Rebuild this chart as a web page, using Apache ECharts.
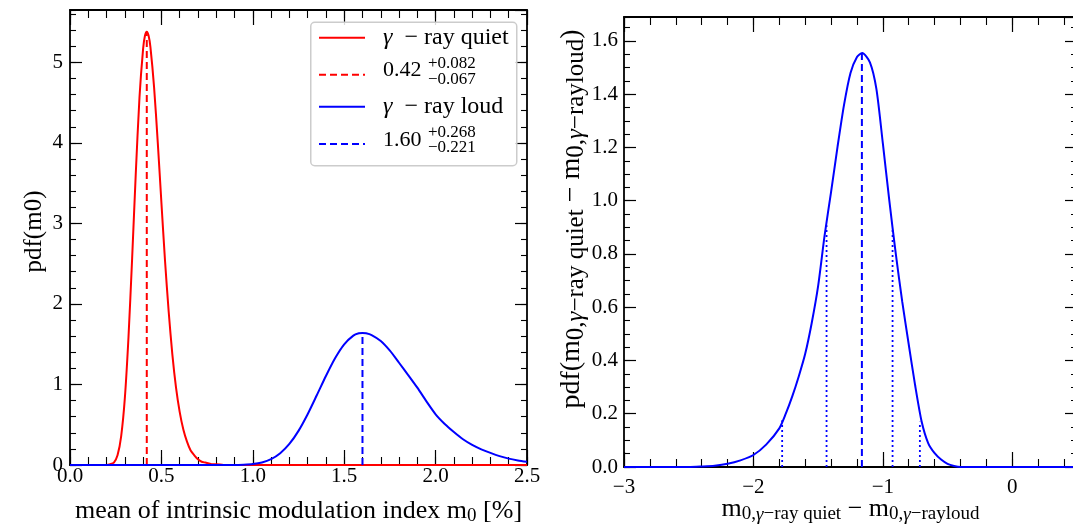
<!DOCTYPE html>
<html><head><meta charset="utf-8">
<script src="https://cdn.jsdelivr.net/npm/echarts@6/dist/echarts.min.js"></script>
<style>html,body{margin:0;padding:0;background:#fff}#c{width:1073px;height:528px}</style>
</head><body><div id="c"></div>
<script>
// ---------------- data ----------------
const quietX = [0.00, 0.20, 0.22, 0.24, 0.26, 0.28, 0.30, 0.32, 0.34, 0.36, 0.38, 0.40, 0.41, 0.42, 0.43, 0.44, 0.46, 0.48, 0.50, 0.52, 0.54, 0.56, 0.58, 0.60, 0.62, 0.64, 0.66, 0.68, 0.70, 0.72, 0.74, 0.76, 0.78, 0.80, 0.84, 2.50];
const quietY = [0.00, 0.00, 0.01, 0.03, 0.12, 0.36, 0.83, 1.59, 2.57, 3.63, 4.56, 5.17, 5.33, 5.38, 5.33, 5.19, 4.69, 4.01, 3.26, 2.53, 1.90, 1.37, 0.96, 0.66, 0.44, 0.29, 0.18, 0.12, 0.07, 0.04, 0.03, 0.02, 0.01, 0.01, 0.00, 0.00];
const loudX = [0.00, 0.90, 0.95, 1.00, 1.05, 1.10, 1.15, 1.20, 1.25, 1.30, 1.35, 1.40, 1.45, 1.50, 1.55, 1.58, 1.60, 1.62, 1.65, 1.70, 1.75, 1.80, 1.85, 1.90, 1.95, 2.00, 2.05, 2.10, 2.15, 2.20, 2.25, 2.30, 2.35, 2.40, 2.45, 2.50];
const loudY = [0.00, 0.00, 0.004, 0.012, 0.032, 0.073, 0.146, 0.261, 0.424, 0.631, 0.866, 1.106, 1.326, 1.499, 1.607, 1.635, 1.64, 1.636, 1.614, 1.54, 1.42, 1.27, 1.117, 0.96, 0.79, 0.63, 0.51, 0.41, 0.32, 0.25, 0.195, 0.15, 0.11, 0.079, 0.057, 0.04];
const quietBest = 0.42, quietBestPdf = 5.38;
const loudBest = 1.60, loudBestPdf = 1.64;

const diffX = [-3.0, -2.5, -2.4, -2.3, -2.2, -2.1, -2.0, -1.9, -1.8, -1.75, -1.7, -1.65, -1.6, -1.55, -1.5, -1.45, -1.4, -1.35, -1.3, -1.25, -1.2, -1.16, -1.1, -1.05, -1.0, -0.95, -0.9, -0.85, -0.8, -0.75, -0.7, -0.65, -0.6, -0.55, -0.5, -0.45, -0.4, 0.5];
const diffY = [0, 0, 0.002, 0.005, 0.012, 0.025, 0.045, 0.085, 0.145, 0.2, 0.265, 0.34, 0.425, 0.54, 0.68, 0.87, 1.033, 1.203, 1.36, 1.48, 1.54, 1.555, 1.52, 1.42, 1.215, 1.0, 0.8, 0.62, 0.46, 0.305, 0.17, 0.09, 0.052, 0.028, 0.012, 0.004, 0, 0];
const diffBest = -1.162, diffBestPdf = 1.555;
const diffBoundX = [-1.778, -1.435, -0.925, -0.714];
const diffBoundPdf = [0.176, 0.908, 0.897, 0.17];

const leftXTicks = [0, 0.5, 1.0, 1.5, 2.0, 2.5];
const leftXTickLabels = ['0.0', '0.5', '1.0', '1.5', '2.0', '2.5'];
const leftYTicks = [0, 1, 2, 3, 4, 5];
const leftYTickLabels = ['0', '1', '2', '3', '4', '5'];
const rightXTicks = [-3, -2, -1, 0];
const rightXTickLabels = ['\u22123', '\u22122', '\u22121', '0'];
const rightYTicks = [0, 0.2, 0.4, 0.6, 0.8, 1.0, 1.2, 1.4, 1.6];
const rightYTickLabels = ['0.0', '0.2', '0.4', '0.6', '0.8', '1.0', '1.2', '1.4', '1.6'];

const quietName = 'γ − ray quiet', loudName = 'γ − ray loud';
const quietBestText = '0.42', quietPlus = '+0.082', quietMinus = '\u22120.067';
const loudBestText = '1.60', loudPlus = '+0.268', loudMinus = '\u22120.221';

// ---------------- helpers ----------------
const FONT = '"Liberation Serif", "Times New Roman", serif';
const zip = (xs, ys) => xs.map((x, i) => [x, ys[i]]);
const lookup = (vals, labels) => v => {
  const i = vals.findIndex(t => Math.abs(t - v) < 1e-6);
  return i >= 0 ? labels[i] : '';
};
const subRich = (sub) => ({
  s: {fontFamily: FONT, fontSize: sub, lineHeight: sub, verticalAlign: 'bottom', color: '#000'},
  sg: {fontFamily: FONT, fontSize: sub, lineHeight: sub, verticalAlign: 'bottom', fontStyle: 'italic', color: '#000'}
});

function axisPair(grid, pos, min, max, major, minor, majorLen, minorLen, extra) {
  const base = {gridIndex: grid, type: 'value', min: min, max: max, position: pos,
    splitLine: {show: false}, scale: false, nameMoveOverlap: false};
  const maj = Object.assign({}, base, {
    interval: major,
    axisLine: {show: true, onZero: false, lineStyle: {color: '#000', width: 1.8}},
    axisTick: {show: true, inside: true, length: majorLen, lineStyle: {color: '#000', width: 1.2}},
    axisLabel: {show: false}
  }, extra || {});
  const mnr = Object.assign({}, base, {
    interval: minor,
    axisLine: {show: false, onZero: false},
    axisTick: {show: true, inside: true, length: minorLen, lineStyle: {color: '#000', width: 1.1}},
    axisLabel: {show: false}
  });
  return [maj, mnr];
}

const tickFont = {fontFamily: FONT, fontSize: 21, color: '#000'};

const xAxes = [].concat(
  axisPair(0, 'bottom', 0, 2.5, 0.5, 0.1, 15, 8, {
    axisLabel: Object.assign({show: true, margin: 1, formatter: lookup(leftXTicks, leftXTickLabels)}, tickFont),
    name: 'mean of intrinsic modulation index m{s|0} [%]', nameLocation: 'middle', nameGap: 31,
    nameTextStyle: {fontFamily: FONT, fontSize: 26, lineHeight: 30, color: '#000', rich: subRich(19)}
  }),
  axisPair(0, 'top', 0, 2.5, 0.5, 0.1, 15, 8),
  axisPair(1, 'bottom', -3, 0.5, 1, 0.2, 15, 8, {
    axisLabel: Object.assign({show: true, margin: 10, showMaxLabel: false, formatter: lookup(rightXTicks, rightXTickLabels)}, tickFont),
    name: 'm{s|0,}{sg|γ}{s|−ray quiet} − m{s|0,}{sg|γ}{s|−rayloud}', nameLocation: 'middle', nameGap: 27,
    nameTextStyle: {fontFamily: FONT, fontSize: 26, lineHeight: 30, color: '#000', rich: subRich(19)}
  }),
  axisPair(1, 'top', -3, 0.5, 1, 0.2, 15, 8)
);

const yAxes = [].concat(
  axisPair(0, 'left', 0, 5.65, 1, 0.2, 12, 6, {
    axisLabel: Object.assign({show: true, margin: 7, showMaxLabel: false, formatter: lookup(leftYTicks, leftYTickLabels)}, tickFont),
    name: 'pdf(m0)', nameLocation: 'middle', nameRotate: 90, nameGap: 21,
    nameTextStyle: {fontFamily: FONT, fontSize: 25, lineHeight: 30, color: '#000', padding: [0, 0, 0, 12]}
  }),
  axisPair(0, 'right', 0, 5.65, 1, 0.2, 12, 6),
  axisPair(1, 'left', 0, 1.69, 0.2, 0.05, 12, 6, {
    axisLabel: Object.assign({show: true, margin: 6, showMaxLabel: false, formatter: lookup(rightYTicks, rightYTickLabels)}, tickFont),
    name: 'pdf(m{s|0,}{sg|γ}{s|−ray quiet} − m{s|0,}{sg|γ}{s|−rayloud})', nameLocation: 'middle', nameRotate: 90, nameGap: 35,
    nameTextStyle: {fontFamily: FONT, fontSize: 28, lineHeight: 34, color: '#000', padding: [0, 0, 0, 46], rich: subRich(25)}
  }),
  axisPair(1, 'right', 0, 1.69, 0.2, 0.05, 12, 6)
);

const RED = '#ff0000', BLUE = '#0000ff';
const lineSeries = (name, xi, yi, data, color, type, width, smooth) => ({
  name: name, type: 'line', xAxisIndex: xi, yAxisIndex: yi, data: data,
  symbol: 'none', showSymbol: false, smooth: smooth || false, clip: true,
  lineStyle: {color: color, width: width || 2, type: type || 'solid'},
  itemStyle: {color: color}, emphasis: {disabled: true}, z: 3
});

const series = [
  lineSeries(quietName, 0, 0, zip(quietX, quietY), RED, 'solid', 2, 0.25),
  lineSeries(quietBestText, 0, 0, [[quietBest, 0], [quietBest, quietBestPdf]], RED, [7, 4]),
  lineSeries(loudName, 0, 0, zip(loudX, loudY), BLUE, 'solid', 2, 0.25),
  lineSeries(loudBestText, 0, 0, [[loudBest, 0], [loudBest, loudBestPdf]], BLUE, [7, 4]),
  lineSeries('diff', 4, 4, zip(diffX, diffY), BLUE, 'solid', 2, 0.25),
  lineSeries('diffBest', 4, 4, [[diffBest, 0], [diffBest, diffBestPdf]], BLUE, [7, 4])
].concat(diffBoundX.map((x, i) => lineSeries('bound' + i, 4, 4, [[x, 0], [x, diffBoundPdf[i]]], BLUE, [2, 3], 1.8)));

const legendBase = (name, top, fmt, rich) => ({
  data: [name], left: 318, top: top, orient: 'vertical', padding: 0, itemGap: 0,
  itemWidth: 46, itemHeight: 14, selectedMode: false,
  itemStyle: {color: 'rgba(0,0,0,0)', borderColor: 'rgba(0,0,0,0)', borderWidth: 0, opacity: 0},
  textStyle: {fontFamily: FONT, fontSize: 24, lineHeight: 24, color: '#000', rich: rich},
  formatter: fmt, z: 5
});
const wordRich = {
  g: {fontFamily: FONT, fontSize: 24, lineHeight: 24, fontStyle: 'italic', padding: [0, 0, 0, 13], color: '#000'},
  t: {fontFamily: FONT, fontSize: 24, lineHeight: 24, color: '#000'}
};
const numRich = {n: {fontFamily: FONT, fontSize: 22, lineHeight: 24, padding: [0, 0, 8, 13], color: '#000'}};

const legends = [
  legendBase(quietName, 25.7, () => '{g|γ}{t|\u2002− ray quiet}', wordRich),
  legendBase(quietBestText, 59.7, () => '{n|' + quietBestText + '}', numRich),
  legendBase(loudName, 94.7, () => '{g|γ}{t|\u2002− ray loud}', wordRich),
  legendBase(loudBestText, 129, () => '{n|' + loudBestText + '}', numRich)
];

const stackText = (txt, top) => ({type: 'text', left: 428, top: top, z: 10,
  style: {text: txt, font: '17px ' + FONT, fill: '#000'}});

const option = {
  animation: false,
  backgroundColor: '#ffffff',
  grid: [
    {left: 70, top: 10, width: 457, height: 455, containLabel: false, outerBoundsMode: 'none'},
    {left: 624, top: 17, width: 453, height: 450, containLabel: false, outerBoundsMode: 'none'}
  ],
  xAxis: xAxes,
  yAxis: yAxes,
  legend: legends,
  graphic: [
    {type: 'rect', left: 310, top: 21.5, z: 3,
      shape: {width: 206, height: 143.5, r: 4},
      style: {fill: 'rgba(255,255,255,0.85)', stroke: '#cccccc', lineWidth: 1.5}},
    stackText(quietPlus, 55.5), stackText(quietMinus, 71.5),
    stackText(loudPlus, 124.5), stackText(loudMinus, 139.5)
  ],
  series: series
};

const chart = echarts.init(document.getElementById('c'), null, {renderer: 'canvas'});
chart.setOption(option);
</script>
</body></html>
